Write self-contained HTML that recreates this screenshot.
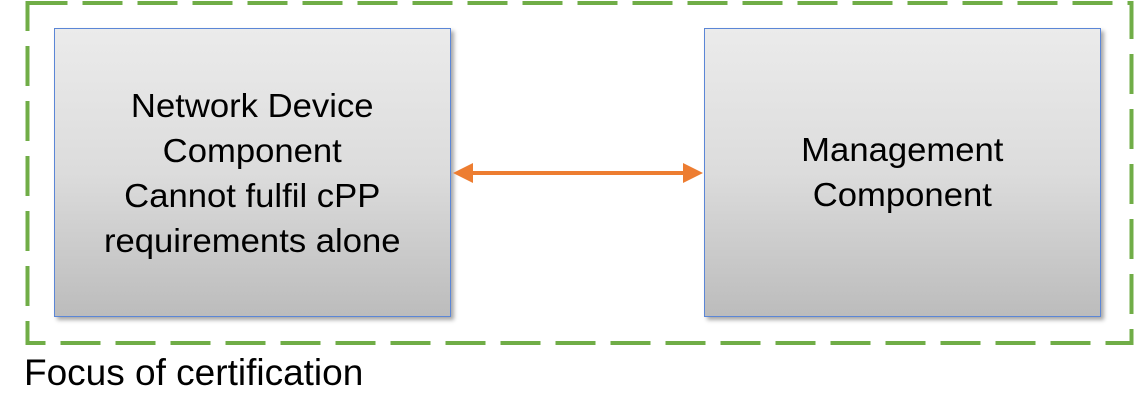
<!DOCTYPE html>
<html><head><style>
html,body{margin:0;padding:0;background:#fff;width:1135px;height:418px;overflow:hidden;position:relative;font-family:"Liberation Sans",sans-serif}
.box{position:absolute;top:28px;width:397px;height:289px;border:1px solid #5b86d6;background:linear-gradient(#ebebeb,#dcdcdc 50%,#bcbcbc);box-shadow:3px 3px 4px rgba(0,0,0,0.35);box-sizing:border-box;display:flex;align-items:center;justify-content:center;text-align:center;font-size:33px;line-height:45px;color:#000}
.box span{display:inline-block;transform:scaleX(1.05)}
</style></head><body>
<svg width="1135" height="418" style="position:absolute;left:0;top:0">
<rect x="27.5" y="3" width="1104" height="340" fill="none" stroke="#70ad47" stroke-width="4" stroke-dasharray="40,15"/>
</svg>
<div class="box" style="left:54px"><span>Network Device<br>Component<br>Cannot fulfil cPP<br>requirements alone</span></div>
<div class="box" style="left:704px;padding-bottom:2px"><span>Management<br>Component</span></div>
<svg width="1135" height="418" style="position:absolute;left:0;top:0">
<line x1="470" y1="173" x2="686" y2="173" stroke="#ed7d31" stroke-width="4"/>
<polygon points="453,173 473,163 473,183" fill="#ed7d31"/>
<polygon points="703,173 683,163 683,183" fill="#ed7d31"/>
</svg>
<div style="position:absolute;left:24px;top:352px;font-size:37px;line-height:42px;color:#000">Focus of certification</div>
</body></html>
